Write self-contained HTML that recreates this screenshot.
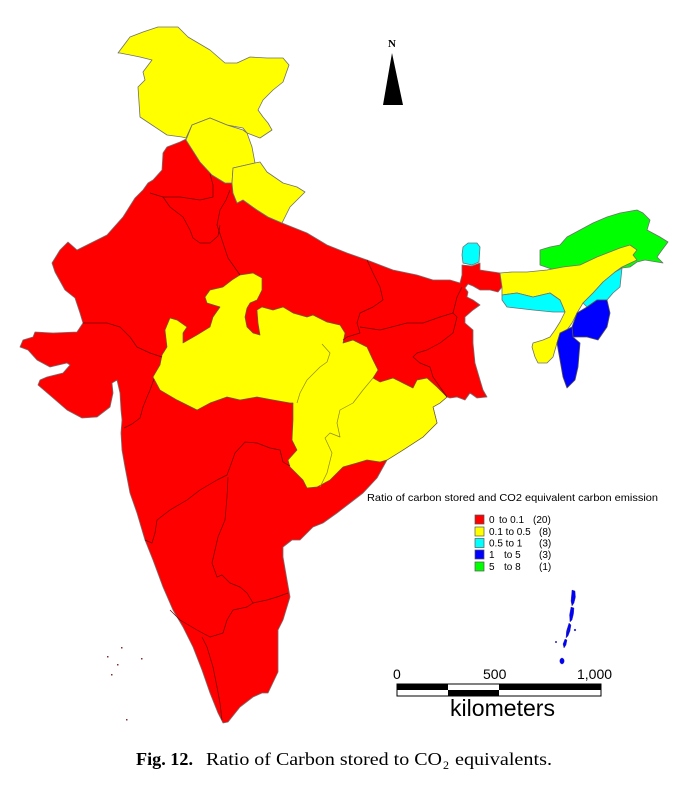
<!DOCTYPE html>
<html>
<head>
<meta charset="utf-8">
<style>
html,body{margin:0;padding:0;background:#fff;}
svg{display:block;}
</style>
</head>
<body>
<svg width="684" height="790" viewBox="0 0 684 790" xmlns="http://www.w3.org/2000/svg">
<rect width="684" height="790" fill="#fff"/>

<!-- Mainland red -->
<polygon fill="#ff0000" stroke="#7a6a6a" stroke-width="0.8" stroke-linejoin="round"
points="186,139 200,162 212,175 225,183 232,183 233,193 237,203 243,200 257,210 268,217 282,223 307,233 327,245 347,253 367,260 393,270 417,275 433,280 450,280 460,283 462,275 462,265 472,266 480,263 480,270 500,273 502,287 498,292 490,290 480,290 473,286 468,284 465,288 468,292 467,297 473,300 480,305 473,310 465,317 465,323 473,330 473,343 475,363 480,380 483,390 487,397 477,398 470,393 465,400 457,397 450,398 447,397 440,403 433,407 437,423 423,437 403,450 387,460 377,478 363,493 350,503 337,513 323,523 313,527 300,540 292,540 283,547 283,557 287,580 290,597 283,620 278,630 278,672 268,693 262,693 253,697 240,707 228,722 223,723 218,713 210,693 202,670 193,647 183,627 173,610 163,587 153,560 145,540 137,513 130,493 125,467 122,450 121,433 122,420 121,410 120,393 117,380 112,383 113,393 110,407 97,417 82,418 67,410 52,397 38,385 40,380 47,377 63,373 70,365 67,363 50,367 37,360 28,350 20,347 23,340 33,337 35,332 53,333 77,332 83,323 80,313 75,298 65,290 55,272 52,263 60,250 68,242 77,250 107,235 123,217 135,198 143,190 148,183 153,180 162,170 163,153 167,147 180,142"/>

<!-- J&K -->
<polygon fill="#ffff00" stroke="#707070" stroke-width="0.8" stroke-linejoin="round"
points="118,53 130,37 143,32 158,27 178,27 188,37 210,50 225,63 237,63 250,57 267,58 283,58 289,65 283,82 273,90 263,100 258,110 263,117 268,123 272,130 260,138 247,133 243,128 227,125 210,118 192,125 186,138 182,137 167,135 152,125 140,117 138,87 145,80 143,72 152,60 140,57 120,53"/>
<!-- HP -->
<polygon fill="#ffff00" stroke="#707070" stroke-width="0.8" stroke-linejoin="round"
points="186,140 192,125 210,118 227,125 243,130 247,133 252,147 255,163 233,168 232,183 225,183 212,175 200,162"/>
<!-- Uttarakhand -->
<polygon fill="#ffff00" stroke="#707070" stroke-width="0.8" stroke-linejoin="round"
points="233,168 255,163 260,162 267,172 283,183 297,187 305,192 300,197 290,207 282,223 268,217 257,210 243,200 237,203 233,193 232,183"/>

<!-- MP + Chhattisgarh + Odisha yellow -->
<polygon fill="#ffff00" stroke="#6a5a30" stroke-width="0.7" stroke-linejoin="round"
points="205,297 210,290 223,287 232,280 240,275 253,273 262,278 262,290 257,300 250,303 247,308 245,317 247,327 253,333 260,335 258,323 257,310 262,307 273,310 283,307 293,313 307,317 313,315 327,322 340,325 345,333 343,343 353,340 367,347 373,360 378,370 373,378 380,382 393,378 403,383 413,388 417,380 427,378 437,387 447,397 440,403 433,407 437,423 423,437 403,450 387,460 380,462 367,460 357,463 343,467 337,473 330,480 317,487 307,488 303,480 290,467 288,460 297,450 292,440 293,420 293,403 290,403 273,400 257,397 240,400 227,397 210,403 197,410 177,400 160,390 153,377 160,365 162,355 167,347 165,330 170,318 177,320 187,327 183,333 183,343 197,335 210,327 213,317 220,307 207,303"/>

<!-- internal red boundaries -->
<g fill="none" stroke="#6e0000" stroke-width="0.7" stroke-linejoin="round">
<polyline points="210,174 213,185 213,197 200,200 180,197 163,197 150,193"/>
<polyline points="230,190 226,200 220,210 217,225 222,240 228,258 240,275"/>
<polyline points="163,197 170,207 183,217 190,230 193,238 200,243 210,243 218,236 220,225"/>
<polyline points="83,323 107,323 120,327 130,337 137,347 150,353 162,357"/>
<polyline points="154,379 150,390 147,397 143,407 140,418 132,424 124,428"/>
<polyline points="145,540 152,543 155,533 157,520 170,510 187,500 200,490 217,480 227,475 230,467 235,453 245,442 257,443 270,448 280,450 283,462 290,466"/>
<polyline points="228,477 227,497 225,520 218,537 215,550 212,563 217,577 222,575 230,583 240,587 247,593 253,603"/>
<polyline points="253,603 247,607 233,610 227,620 223,633 210,637 197,630 180,620 170,610"/>
<polyline points="253,603 267,600 277,597 288,593"/>
<polyline points="202,637 207,647 213,667 217,687 220,703 222,720"/>
<polyline points="367,260 373,273 380,287 383,300 373,307 360,313 357,323 360,333 347,337 343,340"/>
<polyline points="360,327 380,330 407,323 423,323 440,317 453,313 457,297 462,287"/>
<polyline points="453,313 457,317 453,333 440,343 427,350 417,353 413,357 420,363 430,367 433,377 440,387 447,397"/>
</g>
<!-- internal yellow boundaries -->
<g fill="none" stroke="#8a8a20" stroke-width="0.7" stroke-linejoin="round">
<polyline points="322,344 330,353 327,362 320,367 307,380 300,393 297,403"/>
<polyline points="373,378 363,390 353,403 340,410 337,423 340,437 330,433 325,438 332,453 327,473 320,487"/>
</g>

<!-- Sikkim -->
<polygon fill="#00ffff" stroke="#707070" stroke-width="0.8" points="463,247 468,243 477,243 480,247 479,262 472,265 463,263 462,255"/>

<!-- Arunachal -->
<polygon fill="#00ff00" stroke="#707070" stroke-width="0.8" stroke-linejoin="round"
points="540,250 550,247 560,245 567,237 580,230 593,223 607,217 620,213 637,210 643,213 650,220 647,230 660,237 668,242 662,250 657,257 663,263 657,262 645,260 637,262 630,267 622,268 600,275 560,272 540,265"/>
<!-- Assam + Tripura -->
<polygon fill="#ffff00" stroke="#707070" stroke-width="0.8" stroke-linejoin="round"
points="500,273 512,272 527,272 547,270 563,267 580,265 597,257 620,248 630,245 637,250 633,255 637,260 622,267 615,272 603,282 593,293 583,303 577,313 572,323 567,330 560,333 557,343 553,357 547,363 538,363 535,357 532,347 533,343 543,340 550,337 555,330 560,322 565,312 563,307 560,300 550,293 533,297 517,293 502,295 502,287"/>
<!-- Meghalaya -->
<polygon fill="#00ffff" stroke="#707070" stroke-width="0.8" stroke-linejoin="round"
points="502,295 517,293 533,297 550,293 560,300 563,307 565,312 553,312 533,310 507,307 502,300"/>
<!-- Nagaland -->
<polygon fill="#00ffff" stroke="#707070" stroke-width="0.8" stroke-linejoin="round"
points="622,268 620,287 613,293 607,300 597,300 587,307 583,303 593,293 603,282 615,272"/>
<!-- Manipur -->
<polygon fill="#0000ff" stroke="#505050" stroke-width="0.8" stroke-linejoin="round"
points="587,307 597,300 607,300 610,313 607,327 598,340 587,337 573,337 572,327 577,313"/>
<!-- Mizoram -->
<polygon fill="#0000ff" stroke="#505050" stroke-width="0.8" stroke-linejoin="round"
points="572,327 573,337 580,343 578,367 575,380 567,388 563,377 560,360 557,343 560,333"/>

<!-- Andaman -->
<g fill="#0000ff" stroke="#303080" stroke-width="0.4">
<polygon points="572,590 575,591 575.5,597 574,603 572,606 571,601"/>
<polygon points="571,607 574,608 573.5,614 572,620 570,622 569.5,615"/>
<polygon points="569,623 571,625 570,631 568,636 566,638 566.5,631"/>
<polygon points="565,639 567,640 566,645 564,648 563,644"/>
<rect x="567" y="630" width="1.2" height="1.2"/>
<ellipse cx="562" cy="661" rx="2.2" ry="3"/>
<circle cx="556" cy="642" r="0.8"/>
<circle cx="575" cy="630" r="0.9"/>
</g>
<!-- Lakshadweep -->
<g fill="#803030">
<rect x="121" y="647" width="1.5" height="1.5"/>
<rect x="107" y="656" width="1.5" height="1.5"/>
<rect x="117" y="664" width="1.5" height="1.5"/>
<rect x="141" y="658" width="1.5" height="1.5"/>
<rect x="111" y="674" width="1.5" height="1.5"/>
<rect x="126" y="719" width="1.5" height="1.5"/>
</g>

<!-- North arrow -->
<text x="392" y="47" font-family="Liberation Serif, serif" font-weight="bold" font-size="11" text-anchor="middle" fill="#000">N</text>
<polygon points="392,53 383,105 403,105" fill="#000"/>

<!-- Legend -->
<text x="367" y="501" font-family="Liberation Sans, Arial, sans-serif" font-size="10.5" fill="#000" textLength="291" lengthAdjust="spacingAndGlyphs">Ratio of carbon stored and CO2 equivalent carbon emission</text>
<g stroke="#555" stroke-width="0.7">
<rect x="475" y="515" width="9" height="9" fill="#ff0000"/>
<rect x="475" y="527" width="9" height="9" fill="#ffff00"/>
<rect x="475" y="538.5" width="9" height="9" fill="#00ffff"/>
<rect x="475" y="550" width="9" height="9" fill="#0000ff"/>
<rect x="475" y="562" width="9" height="9" fill="#00ff00"/>
</g>
<g font-family="Liberation Sans, Arial, sans-serif" font-size="10" fill="#000">
<text x="489" y="523">0</text><text x="499" y="523">to 0.1</text><text x="533" y="523">(20)</text>
<text x="489" y="535">0.1 to 0.5</text><text x="539" y="535">(8)</text>
<text x="489" y="546.5">0.5 to 1</text><text x="539" y="546.5">(3)</text>
<text x="489" y="558">1</text><text x="504" y="558">to 5</text><text x="539" y="558">(3)</text>
<text x="489" y="570">5</text><text x="504" y="570">to 8</text><text x="539" y="570">(1)</text>
</g>

<!-- Scale bar -->
<g font-family="Liberation Sans, Arial, sans-serif" fill="#000">
<text x="393" y="679" font-size="14">0</text>
<text x="483" y="679" font-size="14">500</text>
<text x="577" y="679" font-size="14">1,000</text>
<text x="450" y="716" font-size="23" textLength="105" lengthAdjust="spacingAndGlyphs">kilometers</text>
</g>
<rect x="397" y="684" width="204" height="12" fill="#fff" stroke="#000" stroke-width="1"/>
<rect x="397" y="684" width="51" height="6" fill="#000"/>
<rect x="448" y="690" width="51" height="6" fill="#000"/>
<rect x="499" y="684" width="102" height="6" fill="#000"/>

<!-- Caption -->
<g font-family="Liberation Serif, serif" font-size="18" fill="#000">
<text x="136" y="765" font-weight="bold" textLength="57" lengthAdjust="spacingAndGlyphs">Fig. 12.</text>
<text x="206" y="765" textLength="236" lengthAdjust="spacingAndGlyphs">Ratio of Carbon stored to CO</text>
<text x="443" y="769" font-size="12">2</text>
<text x="455" y="765" textLength="97" lengthAdjust="spacingAndGlyphs">equivalents.</text>
</g>
</svg>
</body>
</html>
